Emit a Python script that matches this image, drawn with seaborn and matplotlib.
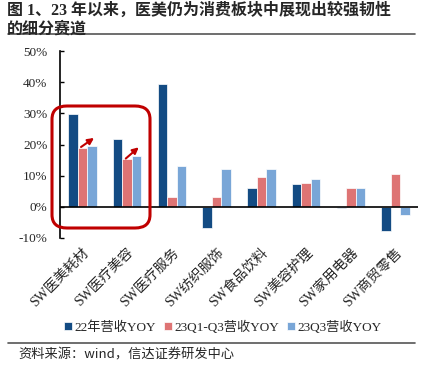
import pandas as pd
import numpy as np
import seaborn as sns
import matplotlib.pyplot as plt
from matplotlib.patches import FancyBboxPatch, FancyArrowPatch
from matplotlib.lines import Line2D

# data (%)
categories = ["SW医美耗材", "SW医疗美容", "SW医疗服务", "SW纺织服饰",
              "SW食品饮料", "SW美容护理", "SW家用电器", "SW商贸零售"]
series_names = ["22年营收YOY", "23Q1-Q3营收YOY", "23Q3营收YOY"]
yoy_22 = [29.8, 21.7, 39.5, -6.7, 6.2, 7.4, -0.5, -7.6]
yoy_23q1q3 = [18.9, 15.2, 3.0, 3.3, 9.7, 7.7, 6.2, 10.4]
yoy_23q3 = [19.4, 16.4, 13.1, 12.2, 12.1, 8.9, 6.2, -2.6]
y_ticks = [-10, 0, 10, 20, 30, 40, 50]

colors = ["#004B96", "#F06262", "#6AA5E6"]

df = pd.DataFrame({
    "cat": categories * 3,
    "series": np.repeat(series_names, len(categories)),
    "val": yoy_22 + yoy_23q1q3 + yoy_23q3,
})

sns.set_theme(style="white")
serif_cjk = ["Liberation Serif", "Noto Sans CJK SC"]
plt.rcParams["font.family"] = serif_cjk
plt.rcParams["axes.unicode_minus"] = False

fig = plt.figure(figsize=(4.28, 3.76), dpi=100)
ax = fig.add_axes([60 / 428, 138 / 376, 358 / 428, 187 / 376])

sns.barplot(data=df, x="cat", y="val", hue="series", palette=colors,
            width=0.64, edgecolor="white", linewidth=0.5, ax=ax, legend=True)

ax.set_ylim(-10, 50)
ax.set_xlim(-0.5, len(categories) - 0.5)
ax.set_yticks(y_ticks)
ax.set_yticklabels([f"{t}%" for t in y_ticks], fontsize=9.5)
ax.tick_params(axis="y", direction="in", length=3, width=1, color="black", pad=9, left=True)
ax.tick_params(axis="x", length=0, pad=6)
ax.set_xticks(range(len(categories)))
ax.set_xticklabels(categories, rotation=45, ha="right", rotation_mode="anchor", fontsize=10)
ax.set_xlabel("")
ax.set_ylabel("")
for s in ["top", "right", "bottom"]:
    ax.spines[s].set_visible(False)
ax.spines["left"].set_color("black")
ax.spines["left"].set_linewidth(1.2)
ax.axhline(0, color="black", lw=1.2, zorder=5)

# legend
h, l = ax.get_legend_handles_labels()
ax.legend_.remove()
fig.legend(h, l, loc="center", bbox_to_anchor=(0.52, 1 - 327 / 376), ncol=3,
           frameon=False, fontsize=9.5, handlelength=0.6, handleheight=0.6,
           handletextpad=0.2, columnspacing=0.6)

# highlight box around the first two groups
box = FancyBboxPatch((52 / 428, 1 - 228 / 376), 98 / 428, 122 / 376,
                     boxstyle="round,pad=0,rounding_size=0.035",
                     transform=fig.transFigure, fill=False,
                     edgecolor="#C00000", lw=2.2, clip_on=False)
fig.patches.append(box)

# arrows from 23Q1-Q3 to 23Q3
for i in range(2):
    arr = FancyArrowPatch((i - 0.03, yoy_23q1q3[i] + 0.3), (i + 0.26, yoy_23q3[i] + 2.7),
                          arrowstyle="-|>", mutation_scale=9, color="#C00000",
                          lw=1.5, shrinkA=0, shrinkB=0, zorder=6)
    ax.add_patch(arr)

# title and rules
fig.text(7 / 428, 1 - 3 / 376, "图 1、23 年以来，医美仍为消费板块中展现出较强韧性\n的细分赛道",
         fontsize=11.5, fontweight="bold", va="top", ha="left", linespacing=1.2)
fig.add_artist(Line2D([8 / 428, 415 / 428], [1 - 34 / 376, 1 - 34 / 376],
                      transform=fig.transFigure, color="#555555", lw=1.2))
fig.add_artist(Line2D([8 / 428, 415 / 428], [1 - 343 / 376, 1 - 343 / 376],
                      transform=fig.transFigure, color="#555555", lw=1.2))
fig.text(18 / 428, 1 - 355 / 376, "资料来源：wind，信达证券研发中心",
         fontsize=9.5, va="center", ha="left",
         family=["Noto Sans CJK SC", "DejaVu Sans"])

fig.savefig("out.png", dpi=100)
